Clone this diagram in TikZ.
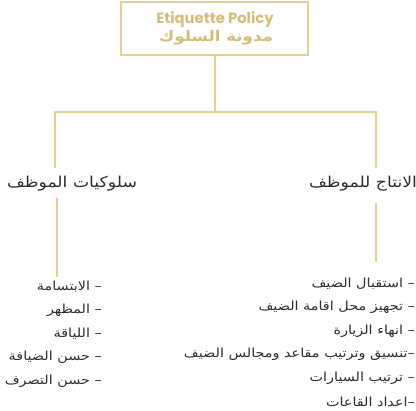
\documentclass[tikz,border=0pt]{standalone}
\usepackage{fontspec}
\setmainfont{DejaVu Sans}
\newfontfamily\arabicfont[Script=Arabic,FakeStretch=1.15]{DejaVu Sans}
\newfontfamily\latinfont{Poppins}
\TeXXeTstate=1
\definecolor{gold}{RGB}{226,208,155}
\definecolor{goldtext}{RGB}{212,188,125}
\definecolor{ink}{RGB}{45,45,45}
\tikzset{
  goldline/.style={draw=gold, line width=1.6pt},
  titlebox/.style={draw=gold, line width=1.6pt, minimum width=187pt, minimum height=53pt, inner sep=0pt, align=center},
  headtext/.style={text=ink, font=\arabicfont\fontsize{15}{17}\selectfont, inner sep=0pt},
  itemtext/.style={text=ink, font=\arabicfont\fontsize{12.5}{14}\selectfont, inner sep=0pt, anchor=east},
}
\begin{document}
\begin{tikzpicture}[x=1pt,y=-1pt]
\useasboundingbox (0,0) rectangle (416,411);
\node[titlebox] (title) at (214.5,28.5) {};
\node[text=goldtext, font=\latinfont\bfseries\fontsize{14.8}{16}\selectfont, inner sep=0pt] (titleen) at (215,20) {Etiquette Policy};
\node[text=goldtext, font=\arabicfont\bfseries\fontsize{14.5}{16}\selectfont, inner sep=0pt] (titlear) at (216,38) {\beginR مدونة السلوك\endR};
\coordinate (hl) at (55,112);
\coordinate (hr) at (376,112);
\coordinate (hm) at (215,112);
\coordinate (lt) at (55,168);
\coordinate (rt) at (376,168);
\draw[goldline] (title.south -| hm) -- (hm);
\draw[goldline, line cap=rect] (hl) -- (hr);
\draw[goldline] (hl) -- (lt);
\draw[goldline] (hr) -- (rt);
\node[headtext] (lh) at (72,184) {\beginR سلوكيات الموظف\endR};
\node[headtext] (rh) at (363,184) {\beginR الانتاج للموظف\endR};
\coordinate (lb1) at (57,198);
\coordinate (lb2) at (57,277);
\coordinate (rb1) at (376,203);
\coordinate (rb2) at (376,262);
\draw[goldline] (lb1) -- (lb2);
\draw[goldline] (rb1) -- (rb2);
\node[itemtext] (l1) at (102,287) {\beginR – الابتسامة\endR};
\node[itemtext] (l2) at (102,310.5) {\beginR – المظهر\endR};
\node[itemtext] (l3) at (102,334) {\beginR – اللياقة\endR};
\node[itemtext] (l4) at (102,357.5) {\beginR – حسن الضيافة\endR};
\node[itemtext] (l5) at (102,381) {\beginR – حسن التصرف\endR};
\node[itemtext] (r1) at (415,284) {\beginR – استقبال الضيف\endR};
\node[itemtext] (r2) at (415,307.5) {\beginR – تجهيز محل اقامة الضيف\endR};
\node[itemtext] (r3) at (415,331) {\beginR – انهاء الزيارة\endR};
\node[itemtext] (r4) at (415,354.5) {\beginR –تنسيق وترتيب مقاعد ومجالس الضيف\endR};
\node[itemtext] (r5) at (415,378) {\beginR – ترتيب السيارات\endR};
\node[itemtext] (r6) at (415,401.5) {\beginR –اعداد القاعات\endR};
\end{tikzpicture}
\end{document}
